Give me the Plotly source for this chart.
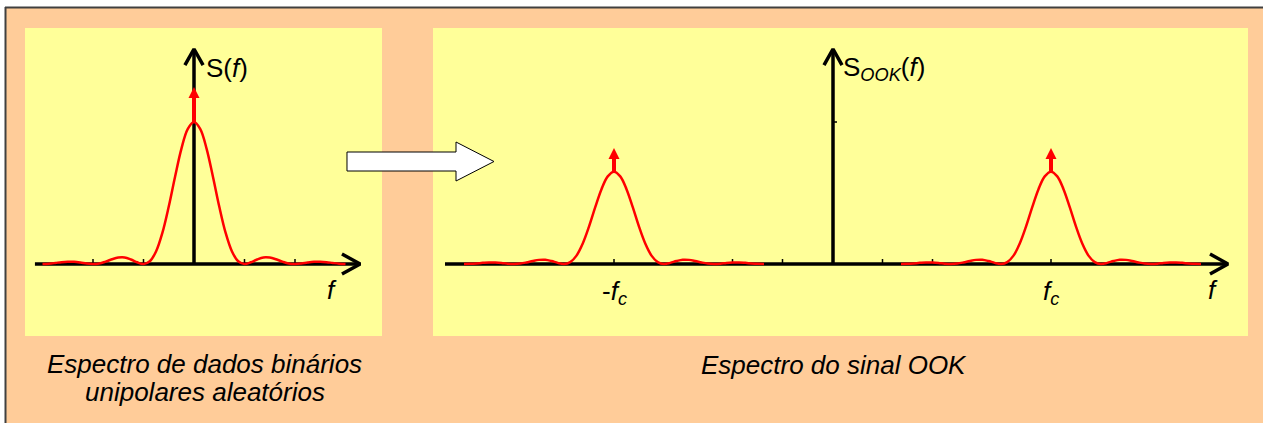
import plotly.graph_objects as go

# ---------------- data ----------------
# frequency offsets (in units of 1/T) around each spectral lobe
offsets = [-3.0, -2.875, -2.75, -2.625, -2.5, -2.375, -2.25, -2.125, -2.0,
           -1.875, -1.75, -1.625, -1.5, -1.375, -1.25, -1.125, -1.0,
           -0.875, -0.75, -0.625, -0.5, -0.375, -0.25, -0.125, 0.0,
           0.125, 0.25, 0.375, 0.5, 0.625, 0.75, 0.875, 1.0,
           1.125, 1.25, 1.375, 1.5, 1.625, 1.75, 1.875, 2.0,
           2.125, 2.25, 2.375, 2.5, 2.625, 2.75, 2.875, 3.0]

# baseband PSD of unipolar random binary data (continuous part)
s_baseband = [0.0, 0.002, 0.007, 0.013, 0.016, 0.015, 0.010, 0.003, 0.0,
              0.004, 0.017, 0.033, 0.045, 0.046, 0.032, 0.012, 0.0,
              0.019, 0.090, 0.221, 0.405, 0.615, 0.811, 0.950, 1.0,
              0.950, 0.811, 0.615, 0.405, 0.221, 0.090, 0.019, 0.0,
              0.012, 0.032, 0.046, 0.045, 0.033, 0.017, 0.004, 0.0,
              0.003, 0.010, 0.015, 0.016, 0.013, 0.007, 0.002, 0.0]

# OOK PSD lobe (continuous part), repeated at -fc and +fc
s_ook = [0.0, 0.001, 0.004, 0.008, 0.011, 0.010, 0.007, 0.002, 0.0,
         0.003, 0.011, 0.021, 0.029, 0.030, 0.021, 0.008, 0.0,
         0.013, 0.059, 0.144, 0.263, 0.400, 0.527, 0.617, 0.650,
         0.617, 0.527, 0.400, 0.263, 0.144, 0.059, 0.013, 0.0,
         0.008, 0.021, 0.030, 0.029, 0.021, 0.011, 0.003, 0.0,
         0.002, 0.007, 0.010, 0.011, 0.008, 0.004, 0.001, 0.0]

FC = 4.37                     # carrier frequency (units of 1/T)
impulse_base = 1.0            # discrete impulse at f = 0 (baseband)
impulse_base_tip = 1.246
impulse_ook = 0.65            # discrete impulses at +-fc
impulse_ook_tip = 0.817

ticks_left = [-2, -1, 1, 2]
ticks_right = [-2, -1, 1, 2, -FC, FC]

captions_left = ["Espectro de dados binários", "unipolares aleatórios"]
caption_right = "Espectro do sinal OOK"

# ---------------- layout helpers ----------------
W, H = 1263, 423
PEACH = "#FFCC99"
YELLOW = "#FFFF99"
RED = "#FF0000"
FONT = "Liberation Sans, Arial, sans-serif"


def px(x):
    return x / W


def py(y):
    return 1 - y / H


fig = go.Figure()

XL_RANGE = [(25 - 194) / 50.5, (382 - 194) / 50.5]
Y_RANGE = [(264 - 336) / 142, (264 - 28) / 142]
XR_RANGE = [(433 - 832.5) / 50, (1248 - 832.5) / 50]

AX = dict(color="black", width=3.5)

# ---------- left panel (x, y) ----------
fig.add_trace(go.Scatter(
    x=[-3.15, 3.29, None, 2.93, 3.29, 2.93],
    y=[0, 0, None, 0.07, 0, -0.07],
    mode="lines", line=AX, xaxis="x", yaxis="y", hoverinfo="skip"))
fig.add_trace(go.Scatter(
    x=[0, 0, None, -0.18, 0, 0.18],
    y=[0, 1.514, None, 1.40, 1.514, 1.40],
    mode="lines", line=AX, xaxis="x", yaxis="y", hoverinfo="skip"))
tx, ty = [], []
for t in ticks_left:
    tx += [t, t, None]
    ty += [0, 0.035, None]
fig.add_trace(go.Scatter(x=tx, y=ty, mode="lines",
                         line=dict(color="black", width=1.5),
                         xaxis="x", yaxis="y", hoverinfo="skip"))
fig.add_trace(go.Scatter(x=offsets, y=s_baseband, mode="lines",
                         line=dict(color=RED, width=2.5, shape="spline"),
                         xaxis="x", yaxis="y", hoverinfo="skip"))
fig.add_trace(go.Scatter(x=[0, 0], y=[impulse_base, impulse_base_tip - 0.06],
                         mode="lines", line=dict(color=RED, width=4),
                         xaxis="x", yaxis="y", hoverinfo="skip"))
fig.add_trace(go.Scatter(x=[0], y=[impulse_base_tip], mode="markers",
                         marker=dict(symbol="arrow-up", size=11, color=RED,
                                     line=dict(width=0)),
                         xaxis="x", yaxis="y", hoverinfo="skip"))

# ---------- right panel (x2, y2) ----------
fig.add_trace(go.Scatter(
    x=[-7.75, 7.91, None, 7.55, 7.91, 7.55],
    y=[0, 0, None, 0.07, 0, -0.07],
    mode="lines", line=AX, xaxis="x2", yaxis="y2", hoverinfo="skip"))
fig.add_trace(go.Scatter(
    x=[0.01, 0.01, None, -0.17, 0.01, 0.19],
    y=[0, 1.514, None, 1.40, 1.514, 1.40],
    mode="lines", line=AX, xaxis="x2", yaxis="y2", hoverinfo="skip"))
tx, ty = [], []
for t in ticks_right:
    tx += [t, t, None]
    ty += [0, 0.035, None]
tx += [0.01, 0.09, None]
ty += [1.0, 1.0, None]
fig.add_trace(go.Scatter(x=tx, y=ty, mode="lines",
                         line=dict(color="black", width=1.5),
                         xaxis="x2", yaxis="y2", hoverinfo="skip"))
for c in (-FC, FC):
    fig.add_trace(go.Scatter(x=[o + c for o in offsets], y=s_ook, mode="lines",
                             line=dict(color=RED, width=2.5, shape="spline"),
                             xaxis="x2", yaxis="y2", hoverinfo="skip"))
    fig.add_trace(go.Scatter(x=[c, c], y=[impulse_ook, impulse_ook_tip - 0.06],
                             mode="lines", line=dict(color=RED, width=4),
                             xaxis="x2", yaxis="y2", hoverinfo="skip"))
    fig.add_trace(go.Scatter(x=[c], y=[impulse_ook_tip], mode="markers",
                             marker=dict(symbol="arrow-up", size=11, color=RED,
                                         line=dict(width=0)),
                             xaxis="x2", yaxis="y2", hoverinfo="skip"))

# ---------------- axes ----------------
hidden = dict(showgrid=False, zeroline=False, showline=False, showticklabels=False,
              ticks="", fixedrange=True)
fig.update_layout(
    xaxis=dict(domain=[px(25), px(382)], range=XL_RANGE, **hidden),
    yaxis=dict(domain=[py(336), py(28)], range=Y_RANGE, **hidden),
    xaxis2=dict(domain=[px(433), px(1248)], range=XR_RANGE, anchor="y2", **hidden),
    yaxis2=dict(domain=[py(336), py(28)], range=Y_RANGE, anchor="x2", **hidden),
)

# ---------------- text ----------------
LBL = dict(family=FONT, size=26, color="black")
ann = []
ann.append(dict(text="S(<i>f</i>)", x=(204 - 194) / 50.5, y=1.38, xref="x", yref="y",
                xanchor="left", yanchor="middle", showarrow=False, font=LBL))
ann.append(dict(text="<i>f</i>", x=(332 - 194) / 50.5, y=-0.185, xref="x", yref="y",
                xanchor="center", yanchor="middle", showarrow=False, font=LBL))
ann.append(dict(text="S<sub><i>OOK</i></sub>(<i>f</i>)", x=0.17, y=1.38, xref="x2", yref="y2",
                xanchor="left", yanchor="middle", showarrow=False, font=LBL))
ann.append(dict(text="-<i>f</i><sub><i>c</i></sub>", x=-FC, y=-0.2, xref="x2", yref="y2",
                xanchor="center", yanchor="middle", showarrow=False, font=LBL))
ann.append(dict(text="<i>f</i><sub><i>c</i></sub>", x=FC, y=-0.2, xref="x2", yref="y2",
                xanchor="center", yanchor="middle", showarrow=False, font=LBL))
ann.append(dict(text="<i>f</i>", x=(1213 - 832.5) / 50, y=-0.185, xref="x2", yref="y2",
                xanchor="center", yanchor="middle", showarrow=False, font=LBL))
CAP = dict(family=FONT, size=26, color="black")
ann.append(dict(text="<i>" + captions_left[0] + "</i>", x=px(204.5), y=py(364),
                xref="paper", yref="paper", xanchor="center", yanchor="middle",
                showarrow=False, font=CAP))
ann.append(dict(text="<i>" + captions_left[1] + "</i>", x=px(204.5), y=py(392),
                xref="paper", yref="paper", xanchor="center", yanchor="middle",
                showarrow=False, font=CAP))
ann.append(dict(text="<i>" + caption_right + "</i>", x=px(834), y=py(365),
                xref="paper", yref="paper", xanchor="center", yanchor="middle",
                showarrow=False, font=CAP))

# ---------------- decorations ----------------
arrow_pts = [(347, 152), (456, 152), (456, 142), (494, 161.5), (456, 181), (456, 171), (347, 171)]
path = "M " + " L ".join(f"{px(x):.5f},{py(y):.5f}" for x, y in arrow_pts) + " Z"
shapes = [
    dict(type="rect", xref="paper", yref="paper", x0=0, x1=1, y0=py(7), y1=1.01,
         fillcolor="white", line=dict(width=0), layer="below"),
    dict(type="rect", xref="paper", yref="paper", x0=-0.01, x1=px(5), y0=-0.01, y1=1.01,
         fillcolor="white", line=dict(width=0), layer="below"),
    dict(type="line", xref="paper", yref="paper", x0=px(5), x1=1.01, y0=py(7.5), y1=py(7.5),
         line=dict(color="#404040", width=2)),
    dict(type="line", xref="paper", yref="paper", x0=px(5.5), x1=px(5.5), y0=-0.01, y1=py(7),
         line=dict(color="#404040", width=2)),
    dict(type="path", xref="paper", yref="paper", path=path,
         fillcolor="white", line=dict(color="black", width=1)),
]

fig.update_layout(
    width=W, height=H,
    margin=dict(l=0, r=0, t=0, b=0),
    paper_bgcolor=PEACH,
    plot_bgcolor=YELLOW,
    showlegend=False,
    annotations=ann,
    shapes=shapes,
)

fig.write_html("out.html", config={"displayModeBar": False},
               post_script="document.body.style.margin='0';document.body.style.overflow='hidden';")
